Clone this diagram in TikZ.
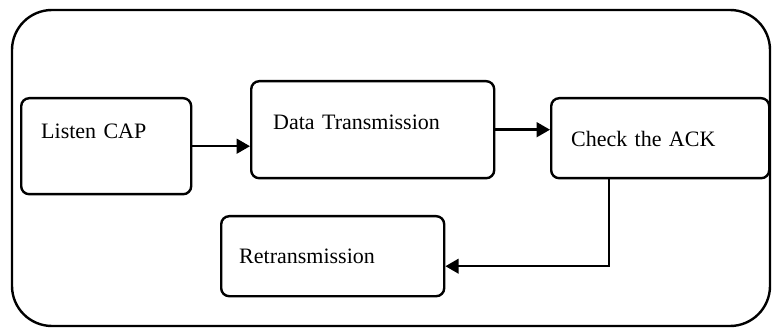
\documentclass[tikz,border=0pt]{standalone}
\usepackage{fontspec}
\setmainfont{Liberation Serif}
\usetikzlibrary{arrows.meta,calc}

\tikzset{
  stage/.style={draw, line width=1.8pt, rounded corners=6pt, anchor=north west,
    align=left, inner ysep=0pt, font=\fontsize{16.5}{18}\selectfont},
  flow/.style={line width=1.8pt, -{Triangle[length=10pt,width=11pt]}}
}

\begin{document}
\begin{tikzpicture}[x=0.75pt,y=-0.75pt]
\useasboundingbox[fill=white] (0,0) rectangle (776,328);
\draw[line width=1.8pt, rounded corners=30pt] (12,10) rectangle (770,326);

\node[stage, inner xsep=15pt, text width=97.5pt, text height=30pt, text depth=42pt] (listen) at (20,97) {Listen CAP};
\node[stage, inner xsep=16.5pt, text width=149.25pt, text height=36pt, text depth=36.75pt] (data) at (250,80) {Data Transmission};
\node[stage, inner xsep=15pt, text width=133.5pt, text height=36pt, text depth=24pt] (check) at (550,97) {Check the ACK};
\node[stage, inner xsep=13.5pt, text width=140.25pt, text height=35.25pt, text depth=24.75pt] (retrans) at (220,215) {Retransmission};

\draw[flow] (listen.east) -- (listen.east -| data.west);
\draw[flow] (data.east) -- (data.east -| check.west);
\draw[flow] ($(check.south)+(-51,0)$) |- ($(retrans.east)+(0,10)$);
\end{tikzpicture}
\end{document}
